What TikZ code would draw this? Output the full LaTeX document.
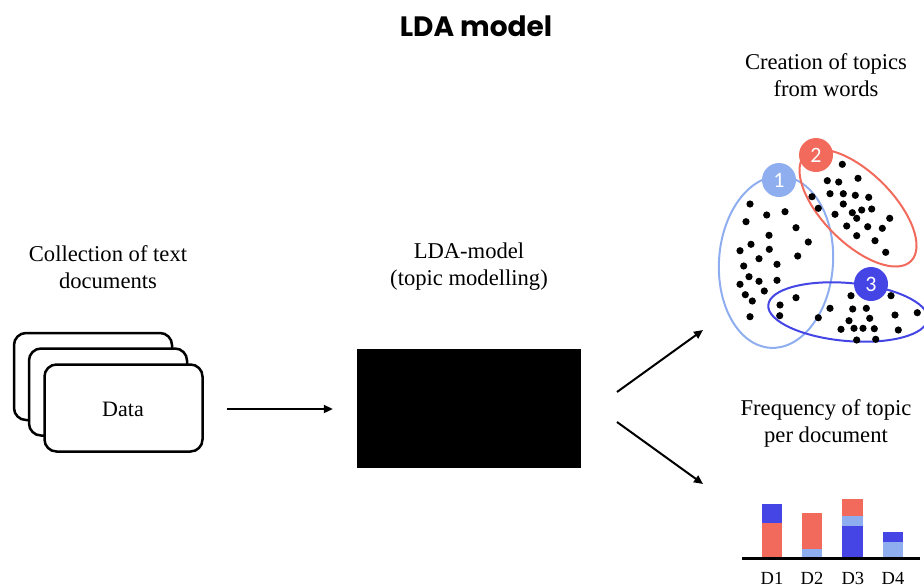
\documentclass[tikz,border=0pt]{standalone}
\usepackage{fontspec}
\setmainfont{Liberation Serif}
\newfontfamily\titlefont{Poppins}
\newfontfamily\numfont{Carlito}
\usetikzlibrary{arrows.meta}
\definecolor{lblue}{HTML}{8FAEF0}
\definecolor{tred}{HTML}{F26A5C}
\definecolor{tblue}{HTML}{4545E6}
\begin{document}
\begin{tikzpicture}[x=1pt,y=-1pt,
  lbl/.style={align=center,font=\fontsize{22.6}{27}\selectfont},
  docbox/.style={draw,fill=white,line width=2.5pt,rounded corners=12pt,minimum width=158pt,minimum height=87pt},
  arr/.style={line width=2pt,-{Triangle[length=9pt,width=8pt]}},
  dot/.style={fill=black},
  ell/.style={line width=2pt},
  tnum/.style={circle,minimum size=34pt,inner sep=0pt,text=white,font=\numfont\fontsize{22}{22}\selectfont}]
\useasboundingbox (0,0) rectangle (924,587);
\node[font=\titlefont\bfseries\fontsize{28}{28}\selectfont] (title) at (476,26) {LDA model};
\node[lbl] (coll) at (108,267) {Collection of text\\documents};
\node[lbl] (ldal) at (469,267) {LDA-model\\(topic modelling)};
\node[lbl] (crea) at (826,75) {Creation of topics\\from words};
\node[lbl] (freq) at (826,423) {Frequency of topic\\per document};
% documents
\node[docbox] (doc1) at (93,376.5) {};
\node[docbox] (doc2) at (108,392) {};
\node[docbox] (doc3) at (123.5,408) {};
\node[font=\fontsize{22}{24}\selectfont] (datal) at (123,409) {Data};
% LDA box
\node[fill=black,minimum width=224pt,minimum height=119pt,inner sep=0pt] (lda) at (469,408.5) {};
\draw[arr,shorten <=23pt,shorten >=24pt] (doc3.east |- datal) -- (lda.west |- datal);
\coordinate (u1) at (617,392); \coordinate (u2) at (703,330);
\coordinate (d1) at (617,422); \coordinate (d2) at (703,484);
\draw[arr] (u1) -- (u2);
\draw[arr] (d1) -- (d2);
% clusters
\draw[ell,lblue] (776,262) ellipse [x radius=57, y radius=86, rotate=-4];
\draw[ell,tred] (858,208) ellipse [x radius=75, y radius=35, rotate=-45];
\draw[ell,tblue] (848,312) ellipse [x radius=80, y radius=29, rotate=-5];
\foreach \p in {(750,204),(766.7,215),(785,211.7),(746,221.7),(796,227.7),(769,235.3),(808.3,242),(751,244.3),(740,250.7),(769.3,249.3),(797.7,256),(759,258.7),(743.7,266),(777,264.3),(749,276.7),(759,281.3),(777,280.3),(740,284.3),(745.3,294.7),(764.3,291),(752.3,301),(750,316.7),(780,305),(779.7,315.7),(796,297.7),
(842.3,164.3),(858,178.3),(827.3,180.7),(838.7,182),(830,193.7),(843.3,193.7),(855.3,195.3),(868.7,197.3),(812,196.7),(818.3,208.3),(843.3,204),(852.3,212.7),(861.7,210),(871.7,209),(835,214.3),(856.7,218.3),(889.7,218.3),(846.7,226),(867.7,226.7),(882.3,228.3),(856.7,235.7),(875,240.7),(885.7,252.3),
(851,295.7),(891,295.7),(830,308.3),(852.7,309),(866.3,308.3),(818.3,317.7),(849,320.7),(869.7,318.3),(895,315),(917.3,312.7),(841,329.3),(854,328.3),(863,328.3),(874.3,328.7),(898.3,330),(856.7,340),(875.7,339.3)}
  \fill[dot] \p circle (3.6);
\node[tnum,fill=lblue] (n1) at (779,180) {1};
\node[tnum,fill=tred] (n2) at (816,155) {2};
\node[tnum,fill=tblue] (n3) at (871,284) {3};
% bars
\fill[tred] (761.7,522.7) rectangle (782.3,558);
\fill[tblue] (761.7,504) rectangle (782.3,522.7);
\fill[lblue] (801.7,549) rectangle (822.3,558);
\fill[tred] (801.7,513) rectangle (822.3,549);
\fill[tblue] (842.3,526) rectangle (863.3,558);
\fill[lblue] (842.3,515.7) rectangle (863.3,526);
\fill[tred] (842.3,499.3) rectangle (863.3,515.7);
\fill[lblue] (882.7,541.7) rectangle (903.3,558);
\fill[tblue] (882.7,532) rectangle (903.3,541.7);
\coordinate (ax1) at (742,558.5); \coordinate (ax2) at (920,558.5);
\draw[line width=2.5pt] (ax1) -- (ax2);
\foreach \x/\t in {772/D1,812/D2,852.8/D3,893/D4}
  \node[font=\fontsize{18.5}{18.5}\selectfont] (lab\t) at (\x,578) {\t};
\end{tikzpicture}
\end{document}
